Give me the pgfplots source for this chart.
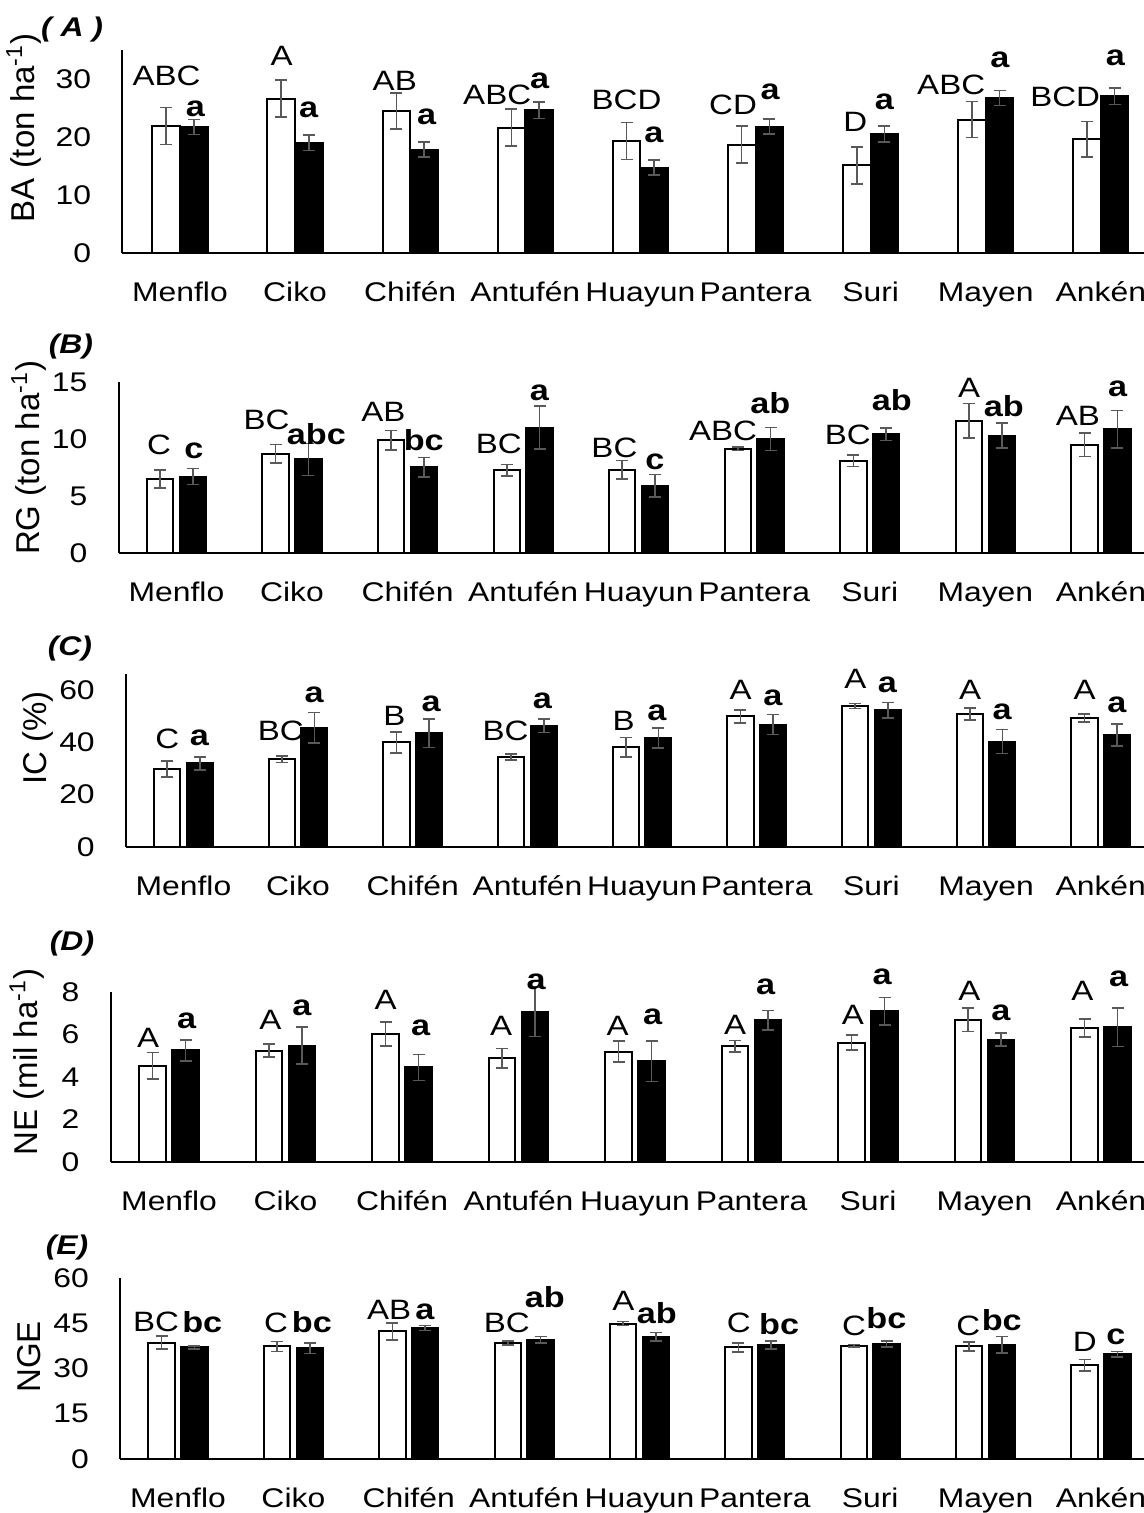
\documentclass[border=0pt]{standalone}
\usepackage{fontspec}
\setmainfont{Liberation Sans}[FakeStretch=1.18]
\newfontfamily\ylfont{Liberation Sans}
\usepackage{pgfplots}
\usepackage{pgfplotstable}
\pgfplotsset{compat=1.18}
\definecolor{errgray}{HTML}{595959}

\pgfplotstableread{
i w we b be
0 21.9 3.2 21.7 1.3
1 26.6 3.2 19.0 1.3
2 24.5 3.1 17.8 1.3
3 21.6 3.2 24.6 1.4
4 19.3 3.2 14.7 1.3
5 18.7 3.2 21.8 1.3
6 15.1 3.2 20.5 1.4
7 23.0 3.1 26.7 1.3
8 19.6 3.1 27.0 1.4
}\dataA
\pgfplotstableread{
i w we b be
0 6.5 0.8 6.7 0.7
1 8.7 0.8 8.2 1.4
2 9.9 0.85 7.5 0.86
3 7.25 0.5 11.0 1.9
4 7.3 0.8 5.9 1.0
5 9.15 0.17 10.0 1.0
6 8.07 0.5 10.4 0.55
7 11.6 1.5 10.3 1.1
8 9.5 1.05 10.85 1.65
}\dataB
\pgfplotstableread{
i w we b be
0 29.7 3.0 31.9 2.5
1 33.5 1.25 45.5 5.8
2 39.9 4.0 43.4 5.4
3 34.3 1.2 46.3 2.6
4 38.0 3.7 41.5 3.8
5 49.8 2.5 46.7 3.8
6 53.8 1.0 52.1 3.0
7 50.8 2.25 40.2 4.6
8 49.2 1.45 42.7 4.2
}\dataC
\pgfplotstableread{
i w we b be
0 4.53 0.62 5.25 0.5
1 5.24 0.3 5.47 0.87
2 6.02 0.56 4.45 0.61
3 4.89 0.46 7.07 1.17
4 5.19 0.49 4.74 0.96
5 5.44 0.27 6.67 0.45
6 5.62 0.35 7.09 0.65
7 6.70 0.56 5.76 0.31
8 6.31 0.42 6.35 0.91
}\dataD
\pgfplotstableread{
i w we b be
0 38.6 2.1 37.0 0.55
1 37.3 1.7 36.7 1.7
2 42.3 2.8 43.4 0.8
3 38.5 0.7 39.5 1.1
4 44.9 0.67 40.5 1.4
5 37.0 1.55 37.75 1.35
6 37.5 0.45 38.1 1.0
7 37.3 1.5 37.9 2.7
8 31.1 1.85 34.7 0.9
}\dataE

\tikzset{
  up/.style={anchor=base, inner sep=0pt, font=\fontsize{14}{14}\selectfont},
  lo/.style={anchor=base, inner sep=0pt, font=\bfseries\fontsize{14.5}{14.5}\selectfont},
}
\pgfplotsset{
  panel/.style={
    scale only axis, anchor=south west,
    xmin=-0.5, xmax=8.5, ymin=0,
    axis lines=left, axis line style={-, line width=0.9pt, black},
    major tick length=0pt,
    xtick={0,...,8},
    xticklabels={Menflo,Ciko,Chifén,Antufén,Huayun,Pantera,Suri,Mayen,Ankén},
    xticklabel style={anchor=base, inner sep=0pt, yshift=-24.5pt},
    yticklabel style={anchor=east, inner sep=0pt, xshift=-15.5pt},
    tick label style={font=\fontsize{13.5}{13.5}\selectfont},
    /pgf/number format/assume math mode=true,
    clip=false,
  },
  ylab/.style 2 args={every axis y label/.style={at={(axis description cs:#1,#2)}, rotate=90, anchor=center, font=\ylfont\fontsize{16.5}{16.5}\selectfont}},
  ttl/.style 2 args={every axis title/.style={at={(axis description cs:#1,#2)}, anchor=center, font=\bfseries\itshape\fontsize{13.5}{13.5}\selectfont}},
  errs/.style={error bars/.cd, y dir=both, y explicit,
    error bar style={errgray, line width=0.8pt},
    error mark options={rotate=90, errgray, line width=0.8pt, mark size=3pt}},
  wbar/.style={ybar, bar shift=0pt, bar width=#1, fill=white, draw=black, line width=1pt, errs},
  bbar/.style={ybar, bar shift=0pt, bar width=#1, fill=black, draw=black, line width=1pt, errs},
}

\begin{document}
\begin{tikzpicture}
% ---------------- (A)
\begin{axis}[panel, at={(61.2pt,630pt)}, width=518pt, height=101.5pt,
  ymax=35, ytick={0,10,20,30},
  ylabel={BA (ton ha\textsuperscript{-1})}, ylab={-0.095}{0.616},
  title={( A )}, ttl={-0.0486}{1.099}]
\addplot[wbar=0.24] table[x expr=\thisrow{i}-0.12, y=w, y error=we] {\dataA};
\addplot[bbar=0.24] table[x expr=\thisrow{i}+0.12, y=b, y error=be] {\dataA};
\node[up] at (axis cs:-0.117,28.8) {ABC};
\node[up] at (axis cs:0.883,32.3) {A};
\node[up] at (axis cs:1.866,28.0) {AB};
\node[up] at (axis cs:2.756,25.6) {ABC};
\node[up] at (axis cs:3.88,24.7) {BCD};
\node[up] at (axis cs:4.805,23.8) {CD};
\node[up] at (axis cs:5.867,20.9) {D};
\node[up] at (axis cs:6.70,27.4) {ABC};
\node[up] at (axis cs:7.69,25.3) {BCD};
\node[lo] at (axis cs:0.134,23.5) {a};
\node[lo] at (axis cs:1.117,23.4) {a};
\node[lo] at (axis cs:2.144,22.2) {a};
\node[lo] at (axis cs:3.124,28.4) {a};
\node[lo] at (axis cs:4.117,19.1) {a};
\node[lo] at (axis cs:5.127,26.5) {a};
\node[lo] at (axis cs:6.12,24.7) {a};
\node[lo] at (axis cs:7.123,31.9) {a};
\node[lo] at (axis cs:8.127,32.3) {a};
\end{axis}
% ---------------- (B)
\begin{axis}[panel, at={(59.35pt,480pt)}, width=520pt, height=85.5pt,
  ymax=15, ytick={0,5,10,15},
  ylabel={RG (ton ha\textsuperscript{-1})}, ylab={-0.0863}{0.556},
  title={(B)}, ttl={-0.0459}{1.21}]
\addplot[wbar=0.228] table[x expr=\thisrow{i}-0.142, y=w, y error=we] {\dataB};
\addplot[bbar=0.228] table[x expr=\thisrow{i}+0.142, y=b, y error=be] {\dataB};
\node[up] at (axis cs:-0.15,8.6) {C};
\node[up] at (axis cs:0.78,10.85) {BC};
\node[up] at (axis cs:1.79,11.5) {AB};
\node[up] at (axis cs:2.79,8.7) {BC};
\node[up] at (axis cs:3.79,8.4) {BC};
\node[up] at (axis cs:4.73,9.9) {ABC};
\node[up] at (axis cs:5.81,9.5) {BC};
\node[up] at (axis cs:6.86,13.6) {A};
\node[up] at (axis cs:7.8,11.2) {AB};
\node[lo] at (axis cs:0.15,8.3) {c};
\node[lo] at (axis cs:1.21,9.5) {abc};
\node[lo] at (axis cs:2.14,8.95) {bc};
\node[lo] at (axis cs:3.14,13.4) {a};
\node[lo] at (axis cs:4.14,7.3) {c};
\node[lo] at (axis cs:5.14,12.2) {ab};
\node[lo] at (axis cs:6.19,12.5) {ab};
\node[lo] at (axis cs:7.16,12.0) {ab};
\node[lo] at (axis cs:8.145,13.7) {a};
\end{axis}
% ---------------- (C)
\begin{axis}[panel, at={(63.05pt,333pt)}, width=516pt, height=86.5pt,
  ymax=66, ytick={0,20,40,60},
  ylabel={IC (\%)}, ylab={-0.0854}{0.63},
  title={(C)}, ttl={-0.0544}{1.15}]
\addplot[wbar=0.228] table[x expr=\thisrow{i}-0.142, y=w, y error=we] {\dataC};
\addplot[bbar=0.228] table[x expr=\thisrow{i}+0.142, y=b, y error=be] {\dataC};
\node[up] at (axis cs:-0.14,37.4) {C};
\node[up] at (axis cs:0.85,40.5) {BC};
\node[up] at (axis cs:1.84,46.2) {B};
\node[up] at (axis cs:2.81,40.5) {BC};
\node[up] at (axis cs:3.84,44.5) {B};
\node[up] at (axis cs:4.86,56.2) {A};
\node[up] at (axis cs:5.86,60.5) {A};
\node[up] at (axis cs:6.86,56.2) {A};
\node[up] at (axis cs:7.86,56.2) {A};
\node[lo] at (axis cs:0.14,38.6) {a};
\node[lo] at (axis cs:1.14,55.0) {a};
\node[lo] at (axis cs:2.16,51.7) {a};
\node[lo] at (axis cs:3.13,52.7) {a};
\node[lo] at (axis cs:4.13,48.3) {a};
\node[lo] at (axis cs:5.14,54.0) {a};
\node[lo] at (axis cs:6.14,59.0) {a};
\node[lo] at (axis cs:7.14,48.7) {a};
\node[lo] at (axis cs:8.14,51.2) {a};
\end{axis}
% ---------------- (D)
\begin{axis}[panel, at={(55.4pt,175.5pt)}, width=524.25pt, height=85pt,
  ymax=8, ytick={0,2,4,6,8},
  ylabel={NE (mil ha\textsuperscript{-1})}, ylab={-0.0799}{0.588},
  title={(D)}, ttl={-0.037}{1.288}]
\addplot[wbar=0.228] table[x expr=\thisrow{i}-0.142, y=w, y error=we] {\dataD};
\addplot[bbar=0.228] table[x expr=\thisrow{i}+0.142, y=b, y error=be] {\dataD};
\node[up] at (axis cs:-0.18,5.41) {A};
\node[up] at (axis cs:0.87,6.23) {A};
\node[up] at (axis cs:1.86,7.17) {A};
\node[up] at (axis cs:2.85,5.96) {A};
\node[up] at (axis cs:3.85,5.96) {A};
\node[up] at (axis cs:4.86,5.99) {A};
\node[up] at (axis cs:5.87,6.48) {A};
\node[up] at (axis cs:6.87,7.61) {A};
\node[up] at (axis cs:7.84,7.61) {A};
\node[lo] at (axis cs:0.15,6.27) {a};
\node[lo] at (axis cs:1.14,6.9) {a};
\node[lo] at (axis cs:2.16,5.93) {a};
\node[lo] at (axis cs:3.15,8.11) {a};
\node[lo] at (axis cs:4.15,6.46) {a};
\node[lo] at (axis cs:5.12,7.89) {a};
\node[lo] at (axis cs:6.12,8.36) {a};
\node[lo] at (axis cs:7.14,6.67) {a};
\node[lo] at (axis cs:8.15,8.27) {a};
\end{axis}
% ---------------- (E)
\begin{axis}[panel, at={(60.15pt,27pt)}, width=519.2pt, height=90.5pt,
  ymax=60, ytick={0,15,30,45,60},
  ylabel={NGE}, ylab={-0.0879}{0.564},
  title={(E)}, ttl={-0.0513}{1.166}]
\addplot[wbar=0.228] table[x expr=\thisrow{i}-0.142, y=w, y error=we] {\dataE};
\addplot[bbar=0.228] table[x expr=\thisrow{i}+0.142, y=b, y error=be] {\dataE};
\node[up] at (axis cs:-0.19,42.3) {BC};
\node[up] at (axis cs:0.85,41.8) {C};
\node[up] at (axis cs:1.83,46.4) {AB};
\node[up] at (axis cs:2.85,41.8) {BC};
\node[up] at (axis cs:3.86,49.2) {A};
\node[up] at (axis cs:4.86,41.8) {C};
\node[up] at (axis cs:5.86,40.9) {C};
\node[up] at (axis cs:6.85,40.9) {C};
\node[up] at (axis cs:7.86,35.5) {D};
\node[lo] at (axis cs:0.21,42.0) {bc};
\node[lo] at (axis cs:1.16,41.8) {bc};
\node[lo] at (axis cs:2.14,46.4) {a};
\node[lo] at (axis cs:3.18,50.1) {ab};
\node[lo] at (axis cs:4.15,44.8) {ab};
\node[lo] at (axis cs:5.21,41.4) {bc};
\node[lo] at (axis cs:6.14,43.4) {bc};
\node[lo] at (axis cs:7.14,42.5) {bc};
\node[lo] at (axis cs:8.13,37.8) {c};
\end{axis}
\pgfresetboundingbox
\path[use as bounding box] (0,0) rectangle (572pt,756.5pt);
\end{tikzpicture}
\end{document}
